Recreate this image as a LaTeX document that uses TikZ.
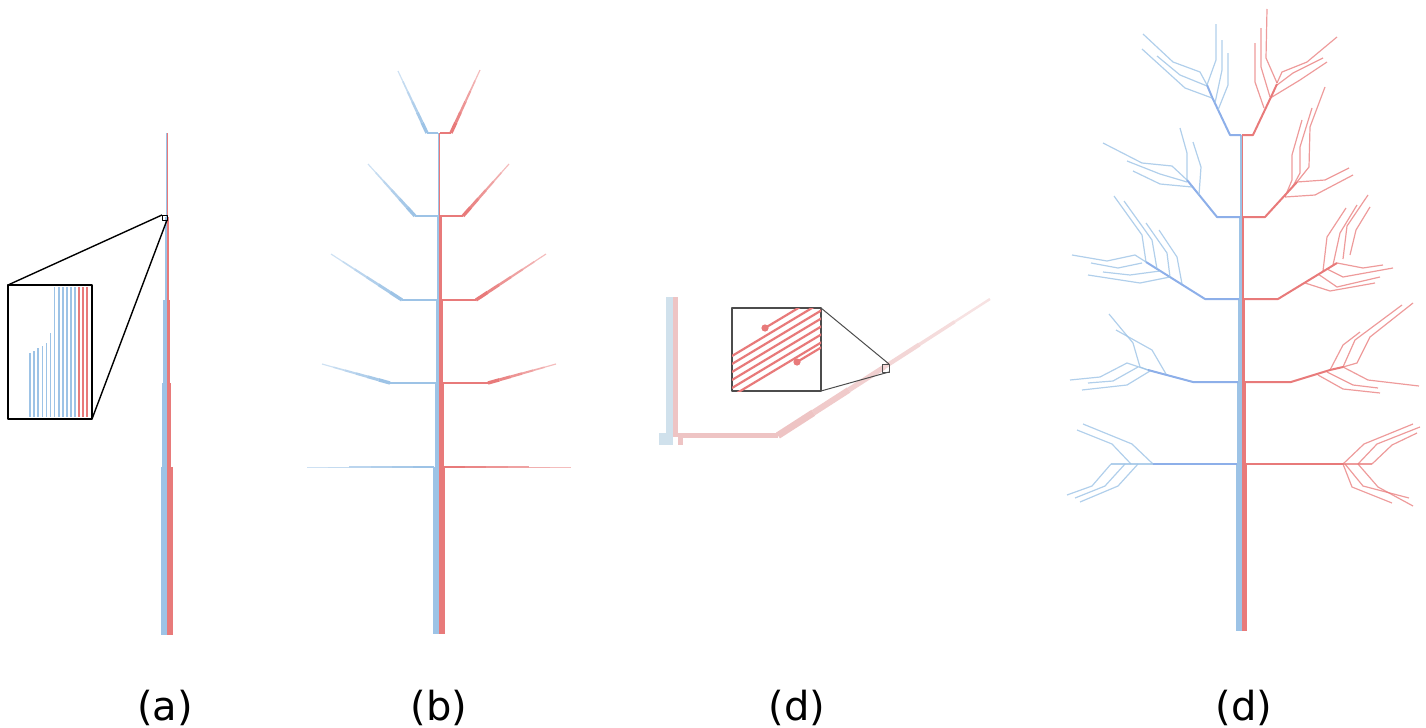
\documentclass[tikz,border=0pt]{standalone}
\usepackage{fontspec}
\setmainfont{DejaVu Sans}
\usetikzlibrary{calc}

\definecolor{vesselblue}{RGB}{157,195,230}
\definecolor{vesselred}{RGB}{232,122,122}
\definecolor{paleblue}{RGB}{208,225,236}
\definecolor{palered}{RGB}{238,196,196}

% tapered, fading segment: start, end, colour, start width (px)
\newcommand{\taper}[4]{%
  \foreach \k in {0,...,5}{%
    \pgfmathsetmacro\lw{(#4)*(1-0.13*\k)*0.5}%
    \pgfmathsetmacro\op{1-0.1*\k}%
    \draw[#3, line width=\lw pt, opacity=\op, line cap=butt] ($#1!\k/6!#2$) -- ($#1!\k/6+1/6!#2$);
  }%
}

\begin{document}
\begin{tikzpicture}[x=0.5pt, y=-0.5pt, line join=round,
  lbl/.style={anchor=base, font=\fontsize{20}{24}\selectfont},
  zoombox/.style={draw=black, line width=1.4pt, fill=white},
  hbranch/.style={line width=0.9pt},
  stemblue/.style={vesselblue!90!blue, line width=1pt},
  stemred/.style={vesselred, line width=1pt},
  twigblue/.style={vesselblue, line width=0.6pt, opacity=0.8},
  twigred/.style={vesselred, line width=0.6pt, opacity=0.75},
  stripe/.style={vesselred, line width=1.1pt}]
  \useasboundingbox (0,0) rectangle (1426,728);

  % (a) single stem
  \fill[vesselblue] (165.5,133) rectangle (166.5,217);
  \fill[vesselred] (166.5,133) rectangle (167.3,217);
  \foreach \ya/\yb/\wb/\wr in {217/300/2/2.5, 300/383/3.5/3.8, 383/467/4.5/4.6, 467/635/6/6.5}{
    \fill[vesselblue] (166.5-\wb,\ya) rectangle (166.5,\yb);
    \fill[vesselred] (166.5,\ya) rectangle (166.5+\wr,\yb);
  }
  \draw[line width=0.5pt] (162,215) rectangle (167,220);
  \draw[line width=0.7pt] (8,285) -- (162,215);
  \draw[line width=0.7pt] (92,419) -- (167,220);
  \draw[zoombox] (8,285) rectangle (92,419);
  \foreach \i/\top in {0/353, 1/351, 2/348, 3/346, 4/343, 5/333, 6/287, 7/287, 8/287, 9/287, 10/287, 11/287}
    \draw[vesselblue, line width=0.8pt] (30+4.1*\i,\top) -- (30+4.1*\i,417);
  \foreach \xr in {79, 83, 87}
    \draw[vesselred, line width=0.8pt] (\xr,287) -- (\xr,417);

  % (b) stem with single branches
  \fill[vesselblue] (437.7,133) rectangle (439,216);
  \fill[vesselred] (439,133) rectangle (440.3,216);
  \foreach \ya/\yb/\wb/\wr in {216/300/2/2.5, 300/383/3.5/4, 383/467/4.5/4.5, 467/634/6/5.5}{
    \fill[vesselblue] (439-\wb,\ya) rectangle (439,\yb);
    \fill[vesselred] (439,\ya) rectangle (439+\wr,\yb);
  }
  \foreach \y/\xb/\bx/\by/\xr/\rx/\ry in {133/427/398/71/451/480/70,
                                         216/415/368/164/463/509/164,
                                         300/402/331/254/476/546/254,
                                         383/390/322/364/488/556/364}{
    \draw[vesselblue, hbranch] (438,\y) -- (\xb,\y);
    \draw[vesselred, hbranch] (440,\y) -- (\xr,\y);
    \taper{(\xb,\y)}{(\bx,\by)}{vesselblue}{3.4}
    \taper{(\xr,\y)}{(\rx,\ry)}{vesselred}{3.4}
  }
  \taper{(434,467)}{(307,467)}{vesselblue}{2}
  \taper{(444,467)}{(571,467)}{vesselred}{2}

  % (d) bent stem with zoom
  \fill[paleblue] (666,297) rectangle (673,445);
  \fill[palered] (673,297) rectangle (678,437);
  \fill[paleblue] (659,433) rectangle (666,445);
  \fill[palered] (678,432.5) rectangle (778,438);
  \fill[palered] (678,438) rectangle (683,445);
  \taper{(778,435.5)}{(990,299)}{palered}{7}
  \draw[black!70, line width=0.5pt] (882,364) rectangle (889,372);
  \draw[black!70, line width=0.5pt] (821,308) -- (889,364);
  \draw[black!70, line width=0.5pt] (821,391) -- (889,372);
  \draw[black!70, line width=0.6pt, fill=white] (732,308) rectangle (821,391);
  \begin{scope}
    \clip (732,308) rectangle (821,391);
    \foreach \yo in {356, 364, 372, 380, 388, 396}
      \draw[stripe] (732,\yo) -- ++(120,-72);
    \draw[stripe] (765,328) -- ++(100,-60);
    \draw[stripe] (797,362) -- ++(60,-36);
    \fill[vesselred] (765,328) circle (1.8pt);
    \fill[vesselred] (797,362) circle (1.8pt);
  \end{scope}

  % (d) full tree
  \fill[vesselblue] (1240,135) rectangle (1241.5,217);
  \fill[vesselred] (1241.5,135) rectangle (1243,217);
  \foreach \ya/\yb/\wb/\wr in {217/299/2.5/2.5, 299/382/3.5/3.5, 382/464/4.5/4.5, 464/631/5.5/5.5}{
    \fill[vesselblue] (1241.5-\wb,\ya) rectangle (1241.5,\yb);
    \fill[vesselred] (1241.5,\ya) rectangle (1241.5+\wr,\yb);
  }
  % level 1
  \draw[stemblue] (1241,135) -- (1230,135) -- (1212,97) -- (1207,85);
  \draw[twigblue] (1218,110) -- (1228,85) -- (1228,53);
  \draw[twigblue] (1215,103) -- (1222,70) -- (1222,40);
  \draw[twigblue] (1207,85) -- (1216,60) -- (1216,24);
  \draw[twigblue] (1207,85) -- (1200,72) -- (1173,62) -- (1143,34);
  \draw[twigblue] (1207,86) -- (1180,75) -- (1157,56);
  \draw[twigblue] (1212,98) -- (1185,88) -- (1142,49);
  \draw[stemred] (1242,135) -- (1253,135) -- (1271,97) -- (1277,84);
  \draw[twigred] (1264,108) -- (1255,82) -- (1255,43);
  \draw[twigred] (1270,97) -- (1261,67) -- (1261,28);
  \draw[twigred] (1277,83) -- (1266,58) -- (1267,9);
  \draw[twigred] (1277,83) -- (1282,72) -- (1307,62) -- (1337,37);
  \draw[twigred] (1277,85) -- (1293,73) -- (1323,58);
  \draw[twigred] (1272,97) -- (1300,80) -- (1327,62);
  % level 2
  \draw[stemblue] (1240,217) -- (1217,217) -- (1187,180);
  \draw[twigblue] (1187,180) -- (1187,153) -- (1180,128);
  \draw[twigblue] (1199,195) -- (1201,167) -- (1193,142);
  \draw[twigblue] (1187,180) -- (1172,166) -- (1142,163) -- (1103,143);
  \draw[twigblue] (1187,182) -- (1160,174) -- (1127,161);
  \draw[twigblue] (1192,187) -- (1160,184) -- (1133,171);
  \draw[stemred] (1243,217) -- (1265,217) -- (1297,182);
  \draw[twigred] (1297,182) -- (1309,167) -- (1310,127) -- (1325,87);
  \draw[twigred] (1292,188) -- (1300,173) -- (1300,147) -- (1312,108);
  \draw[twigred] (1285,197) -- (1292,180) -- (1292,155) -- (1302,120);
  \draw[twigred] (1297,182) -- (1325,180) -- (1349,168);
  \draw[twigred] (1285,197) -- (1315,195) -- (1353,175);
  % level 3
  \draw[stemblue] (1239,299) -- (1205,299) -- (1146,262);
  \draw[twigblue] (1146,262) -- (1142,235) -- (1114,196);
  \draw[twigblue] (1157,269) -- (1152,240) -- (1124,201);
  \draw[twigblue] (1170,277) -- (1167,253) -- (1146,223);
  \draw[twigblue] (1182,284) -- (1177,257) -- (1159,230);
  \draw[twigblue] (1146,262) -- (1135,255) -- (1107,261) -- (1072,255);
  \draw[twigblue] (1142,263) -- (1118,268) -- (1091,263);
  \draw[twigblue] (1160,271) -- (1130,275) -- (1103,272);
  \draw[twigblue] (1170,277) -- (1140,283) -- (1088,275);
  \draw[stemred] (1244,299) -- (1278,299) -- (1337,263);
  \draw[twigred] (1323,271) -- (1327,237) -- (1346,208);
  \draw[twigred] (1333,265) -- (1340,233) -- (1357,205);
  \draw[twigred] (1343,259) -- (1347,226) -- (1368,195);
  \draw[twigred] (1350,255) -- (1356,230) -- (1370,207);
  \draw[twigred] (1337,263) -- (1363,268) -- (1383,265);
  \draw[twigred] (1327,269) -- (1343,277) -- (1393,268);
  \draw[twigred] (1318,274) -- (1337,287) -- (1380,277);
  \draw[twigred] (1305,283) -- (1330,291) -- (1375,283);
  % level 4
  \draw[stemblue] (1238,382) -- (1193,382) -- (1148,370);
  \draw[twigblue] (1148,370) -- (1140,367) -- (1133,343) -- (1109,314);
  \draw[twigblue] (1166,374) -- (1152,350) -- (1116,330);
  \draw[twigblue] (1148,370) -- (1127,363) -- (1100,377) -- (1070,380);
  \draw[twigblue] (1138,367) -- (1113,381) -- (1088,383);
  \draw[twigblue] (1150,371) -- (1127,385) -- (1082,390);
  \draw[stemred] (1245,382) -- (1291,382) -- (1330,370) -- (1343,367);
  \draw[twigred] (1343,367) -- (1357,363) -- (1370,337) -- (1413,303);
  \draw[twigred] (1343,367) -- (1355,340) -- (1402,305);
  \draw[twigred] (1330,370) -- (1343,345) -- (1360,332);
  \draw[twigred] (1343,367) -- (1368,380) -- (1419,386);
  \draw[twigred] (1327,372) -- (1353,385) -- (1378,388);
  \draw[twigred] (1318,375) -- (1343,389) -- (1380,393);
  % level 5
  \draw[stemblue, line width=0.8pt] (1237,464) -- (1153,464);
  \draw[twigblue] (1153,464) -- (1111,464);
  \draw[twigblue] (1153,464) -- (1132,444) -- (1083,424);
  \draw[twigblue] (1131,464) -- (1112,444) -- (1077,430);
  \draw[twigblue] (1138,464) -- (1118,486) -- (1080,502);
  \draw[twigblue] (1125,464) -- (1105,486) -- (1075,498);
  \draw[twigblue] (1111,464) -- (1092,486) -- (1067,495);
  \draw[stemred, line width=0.8pt] (1246,464) -- (1343,464);
  \draw[twigred] (1343,464) -- (1372,464);
  \draw[twigred] (1343,464) -- (1364,444) -- (1413,424);
  \draw[twigred] (1358,464) -- (1377,444) -- (1420,427);
  \draw[twigred] (1372,464) -- (1392,445) -- (1417,433);
  \draw[twigred] (1343,464) -- (1352,487) -- (1392,503);
  \draw[twigred] (1345,464) -- (1363,486) -- (1409,498);
  \draw[twigred] (1358,464) -- (1378,487) -- (1413,506);

  % panel labels
  \node[lbl] (lbla) at (165,720) {(a)};
  \node[lbl] (lblb) at (439,720) {(b)};
  \node[lbl] (lblc) at (797,720) {(d)};
  \node[lbl] (lbld) at (1244,720) {(d)};
\end{tikzpicture}
\end{document}
